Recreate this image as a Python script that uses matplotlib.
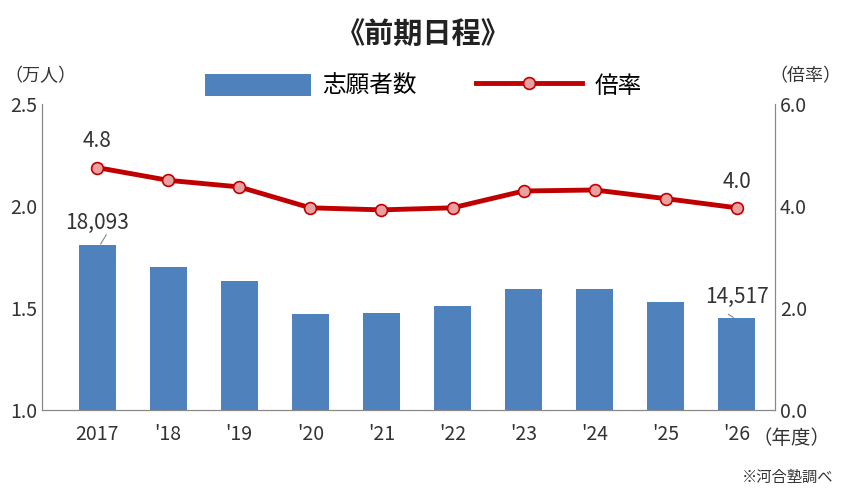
import matplotlib
matplotlib.use("Agg")
import matplotlib.pyplot as plt

plt.rcParams['font.family'] = ['Noto Sans CJK JP', 'DejaVu Sans']

categories = ["2017", "'18", "'19", "'20", "'21", "'22", "'23", "'24", "'25", "'26"]
applicants = [1.8093, 1.70, 1.635, 1.47, 1.475, 1.51, 1.595, 1.595, 1.53, 1.4517]
ratio = [4.76, 4.51, 4.38, 3.97, 3.93, 3.97, 4.30, 4.32, 4.15, 3.97]

fig = plt.figure(figsize=(8.46, 4.9), dpi=100)
ax = fig.add_axes([0.05, 0.163, 0.866, 0.624])
ax2 = ax.twinx()
x = range(len(categories))
ax.bar(x, [a - 1.0 for a in applicants], bottom=1.0, width=0.52, color='#4f81bd', label='志願者数', zorder=2)
ax.set_ylim(1.0, 2.5)
ax.set_yticks([1.0, 1.5, 2.0, 2.5])
ax.set_yticklabels(['1.0', '1.5', '2.0', '2.5'])
ax.set_xlim(-0.77, 9.535)
ax.set_xticks(list(x))
ax.set_xticklabels(categories)
ax2.plot(x, ratio, color='#c00000', lw=3.5, marker='o', ms=8.5, mfc='#e8a0a0', mec='#c00000', mew=1.2, label='倍率', zorder=3)
ax2.set_ylim(0, 6)
ax2.set_yticks([0, 2, 4, 6])
ax2.set_yticklabels(['0.0', '2.0', '4.0', '6.0'])
for a in (ax, ax2):
    a.spines['top'].set_visible(False)
    for s in ['left', 'right', 'bottom']:
        a.spines[s].set_color('#888888')
    a.tick_params(labelsize=14, colors='#333333', length=0)
ax.tick_params(axis='x', pad=10)

ax.text(0, applicants[0] + 0.055, '18,093', ha='center', va='bottom', fontsize=15, color='#333333')
ax.plot([0.13, 0.05], [1.86, 1.815], color='#888888', lw=0.8)
ax.text(9, applicants[9] + 0.05, '14,517', ha='center', va='bottom', fontsize=15, color='#333333')
ax.plot([8.88, 8.95], [1.47, 1.455], color='#888888', lw=0.8)
ax2.text(0, ratio[0] + 0.3, '4.8', ha='center', va='bottom', fontsize=15, color='#333333')
ax2.text(9, ratio[9] + 0.3, '4.0', ha='center', va='bottom', fontsize=15, color='#333333')

fig.text(0.5, 0.93, '《前期日程》', ha='center', va='center', fontsize=21, fontweight='bold', color='#222222')
fig.text(0.005, 0.845, '（万人）', ha='left', va='center', fontsize=13, color='#333333')
fig.text(0.995, 0.845, '（倍率）', ha='right', va='center', fontsize=13, color='#333333')
fig.text(0.935, 0.105, '（年度）', ha='center', va='center', fontsize=14, color='#333333')
fig.text(0.985, 0.025, '※河合塾調べ', ha='right', va='center', fontsize=11, color='#333333')

h1, l1 = ax.get_legend_handles_labels()
h2, l2 = ax2.get_legend_handles_labels()
fig.legend(h1 + h2, l1 + l2, loc='center', bbox_to_anchor=(0.5, 0.825), ncol=2, frameon=False,
           fontsize=17, handlelength=4.5, handleheight=1.1, columnspacing=2.5, handletextpad=0.5)
fig.savefig('out.png', dpi=100)
